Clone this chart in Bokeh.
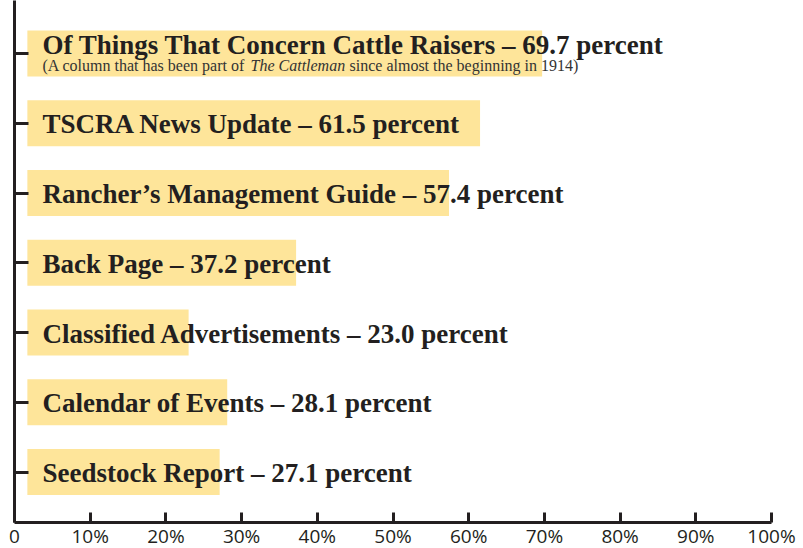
from bokeh.plotting import figure
from bokeh.models import ColumnDataSource, Range1d, FixedTicker
from bokeh.core.properties import value
from bokeh.embed import file_html
from bokeh.resources import INLINE

categories = [
    "Of Things That Concern Cattle Raisers",
    "TSCRA News Update",
    "Rancher\u2019s Management Guide",
    "Back Page",
    "Classified Advertisements",
    "Calendar of Events",
    "Seedstock Report",
]
percents = [69.7, 61.5, 57.4, 37.2, 23.0, 28.1, 27.1]
x_ticks = [0, 10, 20, 30, 40, 50, 60, 70, 80, 90, 100]
x_tick_labels = ["0", "10%", "20%", "30%", "40%", "50%", "60%", "70%", "80%", "90%", "100%"]
sub_pieces = ["(A column that has been part of", "The Cattleman", "since almost the beginning in 1914)"]

BAR = "#FEE59A"
INK = "#231F20"
BAR_START = 1.7
TEXT_X = 3.7

ys = list(range(len(categories)))
labels = [f"{c} \u2013 {v:.1f} percent" for c, v in zip(categories, percents)]

src = ColumnDataSource(dict(y=ys, right=percents, left=[BAR_START] * len(ys)))

p = figure(frame_width=757, frame_height=522, output_backend="svg", toolbar_location=None,
           x_range=Range1d(0, 100), y_range=Range1d(len(ys) - 0.276, -0.76),
           min_border_left=14, min_border_top=0, min_border_right=32, min_border_bottom=26)
p.outline_line_color = None
p.xgrid.visible = False
p.ygrid.visible = False
p.background_fill_color = "white"
p.border_fill_color = "white"

p.hbar(y="y", left="left", right="right", height=0.66, source=src,
       fill_color=BAR, line_color=None)

rest = ColumnDataSource(dict(x=[TEXT_X] * (len(ys) - 1), y=ys[1:], label=labels[1:]))
p.text(x="x", y="y", text="label", source=rest, text_font=value("Liberation Serif"),
       text_font_style="bold", text_font_size="27px", text_color=INK,
       text_baseline="alphabetic", y_offset=1)

first = ColumnDataSource(dict(x=[TEXT_X], y=[ys[0]], label=[labels[0]]))
p.text(x="x", y="y", text="label", source=first, text_font=value("Liberation Serif"),
       text_font_style="bold", text_font_size="27px", text_color=INK,
       text_baseline="alphabetic", y_offset=-9)

offs = [0, 208, 307]
styles = ["normal", "italic", "normal"]
for piece, off, st in zip(sub_pieces, offs, styles):
    s = ColumnDataSource(dict(x=[TEXT_X], y=[ys[0]], t=[piece]))
    p.text(x="x", y="y", text="t", source=s, text_font=value("Liberation Serif"),
           text_font_style=st, text_font_size="16px", text_color="#333333",
           text_baseline="alphabetic", x_offset=off, y_offset=12)

xa = p.xaxis[0]
xa.ticker = FixedTicker(ticks=x_ticks)
xa.major_label_overrides = {t: l for t, l in zip(x_ticks, x_tick_labels)}
xa.major_tick_in = 10
xa.major_tick_out = 0
xa.minor_tick_line_color = None
xa.axis_line_width = 3
xa.axis_line_color = INK
xa.major_tick_line_width = 3
xa.major_tick_line_color = INK
xa.major_label_text_font = "Open Sans"
xa.major_label_text_font_size = "19px"
xa.major_label_text_color = INK
xa.major_label_standoff = 0

ya = p.yaxis[0]
ya.ticker = FixedTicker(ticks=ys)
ya.major_label_overrides = {t: "" for t in ys}
ya.major_tick_in = 14
ya.major_tick_out = 0
ya.minor_tick_line_color = None
ya.axis_line_width = 3
ya.axis_line_color = INK
ya.major_tick_line_width = 3
ya.major_tick_line_color = INK
ya.major_label_standoff = 0

open("out.html", "w").write(file_html(p, INLINE))
